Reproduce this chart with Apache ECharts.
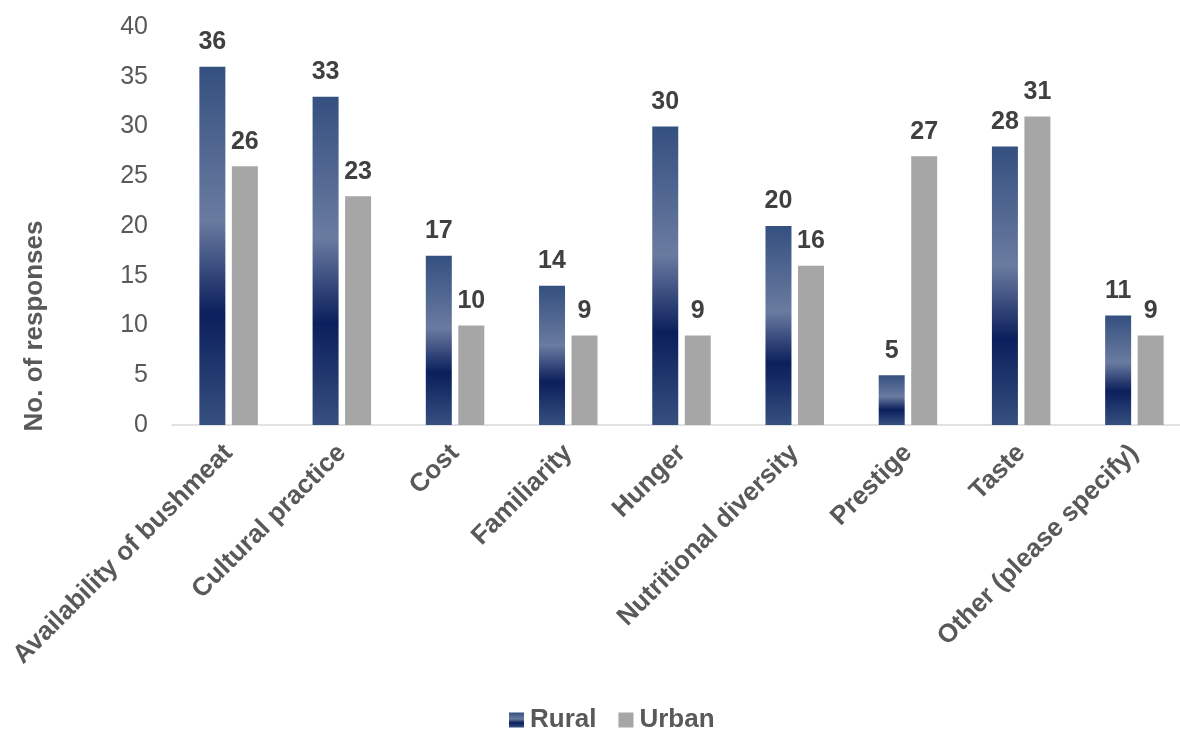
<!DOCTYPE html>
<html>
<head>
<meta charset="utf-8">
<script src="https://cdn.jsdelivr.net/npm/echarts@6/dist/echarts.min.js"></script>
<style>
html,body{margin:0;padding:0;background:#fff;}
#chart{width:1180px;height:729px;}
</style>
</head>
<body>
<div id="chart"></div>
<script>
var categories = ["Availability of bushmeat","Cultural practice","Cost","Familiarity","Hunger","Nutritional diversity","Prestige","Taste","Other (please specify)"];
var rural = [36,33,17,14,30,20,5,28,11];
var urban = [26,23,10,9,9,16,27,31,9];
var yTicks = [0,5,10,15,20,25,30,35,40];

var font = '"Liberation Sans", Arial, sans-serif';
var ruralGrad = new echarts.graphic.LinearGradient(0,0,0,1,[
  {offset:0,color:'#34507f'},
  {offset:0.43,color:'#6a7ba0'},
  {offset:0.69,color:'#0b1f5c'},
  {offset:1,color:'#36507f'}
]);
var chart = echarts.init(document.getElementById('chart'));
chart.setOption({
  backgroundColor:'#fff',
  animation:false,
  grid:{left:172,width:1019,top:27,height:398,containLabel:false,outerBoundsMode:'none'},
  legend:{
    top:702,left:504,itemWidth:15,itemHeight:15,itemGap:22,
    icon:'rect',
    textStyle:{fontFamily:font,fontSize:26,fontWeight:'bold',color:'#595959',padding:[0,0,0,1]},
    data:['Rural','Urban']
  },
  xAxis:{
    type:'category',data:categories,
    axisLine:{lineStyle:{color:'#d9d9d9',width:1.5}},
    axisTick:{show:false},
    axisLabel:{rotate:45,interval:0,margin:24,fontFamily:font,fontSize:26,fontWeight:'bold',color:'#595959'}
  },
  yAxis:{
    type:'value',min:0,max:40,interval:5,
    axisLine:{show:false},axisTick:{show:false},splitLine:{show:false},
    axisLabel:{margin:24,fontFamily:font,fontSize:25,color:'#595959',
      customValues:yTicks}
  },
  graphic:[{
    type:'text',rotation:Math.PI/2,x:35,y:326,
    style:{text:'No. of responses',fontFamily:font,fontSize:26,fontWeight:'bold',fill:'#595959',
      textAlign:'center',textVerticalAlign:'middle',verticalAlign:'middle'}
  }],
  series:[
    {name:'Rural',type:'bar',data:rural,barWidth:26,barGap:'25%',
      itemStyle:{color:ruralGrad},
      label:{show:true,position:'top',distance:12,fontFamily:font,fontSize:25,fontWeight:'bold',color:'#404040'}},
    {name:'Urban',type:'bar',data:urban,barWidth:26,
      itemStyle:{color:'#a6a6a6'},
      label:{show:true,position:'top',distance:12,fontFamily:font,fontSize:25,fontWeight:'bold',color:'#404040'}}
  ]
});
</script>
</body>
</html>
